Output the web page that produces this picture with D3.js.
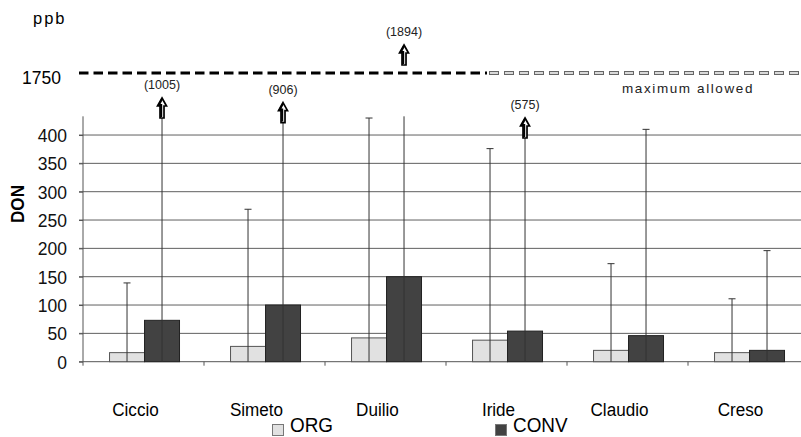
<!DOCTYPE html>
<html><head><meta charset="utf-8">
<script src="https://cdn.jsdelivr.net/npm/d3@7"></script>
<style>
html,body{margin:0;padding:0;background:#fff;}
svg{display:block;font-family:"Liberation Sans",Arial,sans-serif;}
</style></head>
<body>
<svg id="c" width="801" height="437"></svg>
<script>
const categories = ["Ciccio","Simeto","Duilio","Iride","Claudio","Creso"];
const series = ["ORG","CONV"];
const orgValues = [16, 27, 42, 38, 20, 16];
const convValues = [73, 100, 150, 54, 46, 20];
const orgUpper = [139, 269, 430, 376, 173, 111];
const convUpper = [1005, 906, 1894, 575, 410, 196];
const yTicks = [0, 50, 100, 150, 200, 250, 300, 350, 400];
const limitValue = 1750;
const limitLabel = "maximum allowed";

const svg = d3.select("#c");
const W = 801;
const x0 = d3.scaleBand().domain(categories).range([83, 83 + 121 * 6]).padding(0);
const x1 = d3.scaleBand().domain(series).range([0, x0.bandwidth()]).paddingInner(0).paddingOuter(0.729).align(0.52);
const yMaxAxis = 433;
const y = d3.scaleLinear().domain([0, yMaxAxis]).range([361.7, 361.7 - yMaxAxis * 0.5667]);
// broken upper scale for off-chart values (ppb)
const yBreak = d3.scaleLinear().domain([575, 1005, 1750, 1894]).range([118, 98, 73, 45]);

function txt(g, x, yy, s, opts) {
  const t = g.append("text")
    .attr("transform", `translate(${x},${yy}) ${opts.rot ? "rotate(-90)" : ""} scale(${opts.sx || 1},1)`)
    .attr("text-anchor", opts.anchor || "start")
    .attr("font-size", opts.size)
    .attr("font-weight", opts.bold ? "bold" : "normal")
    .attr("fill", opts.fill || "#000")
    .text(s);
  if (opts.ls) t.attr("letter-spacing", opts.ls);
  return t;
}

// gridlines
const grid = svg.append("g");
grid.selectAll("line").data(yTicks.filter(d => d > 0)).join("line")
  .attr("x1", 79).attr("x2", W).attr("y1", d => y(d)).attr("y2", d => y(d))
  .attr("stroke", "#5f5f5f").attr("stroke-width", 1);

// y axis
const yAxis = svg.append("g").attr("transform", "translate(83,0)")
  .call(d3.axisLeft(y).tickValues(yTicks).tickSize(4).tickPadding(12).tickFormat(d3.format("d")));
yAxis.select(".domain").attr("stroke", "#555").attr("d", `M0,${y(0)}V${y(yMaxAxis)}`);
yAxis.selectAll(".tick line").attr("stroke", "#555");
yAxis.selectAll(".tick text").attr("font-size", 17.5).attr("fill", "#111")
  .attr("font-family", "Liberation Sans, Arial, sans-serif").attr("dy", "0.36em");

// x axis
svg.append("line").attr("x1", 79).attr("x2", W).attr("y1", y(0)).attr("y2", y(0)).attr("stroke", "#555");
svg.append("g").selectAll("line").data(categories).join("line")
  .attr("x1", d => x0(d)).attr("x2", d => x0(d))
  .attr("y1", y(0)).attr("y2", y(0) + 4).attr("stroke", "#555");

// bars
const colors = {ORG: "#e1e1e1", CONV: "#424242"};
const strokes = {ORG: "#555", CONV: "#222"};
const rows = categories.map((c, i) => ({c, ORG: orgValues[i], CONV: convValues[i], ORGu: orgUpper[i], CONVu: convUpper[i]}));
const gBars = svg.append("g");
rows.forEach(r => {
  series.forEach(s => {
    gBars.append("rect")
      .attr("x", x0(r.c) + x1(s)).attr("width", x1.bandwidth())
      .attr("y", y(r[s])).attr("height", y(0) - y(r[s]))
      .attr("fill", colors[s]).attr("stroke", strokes[s]).attr("stroke-width", 1);
  });
});

// error bars and arrows
const arrowLen = 20;
const gErr = svg.append("g");
rows.forEach(r => {
  series.forEach(s => {
    const cx = x0(r.c) + x1(s) + x1.bandwidth() / 2;
    const u = r[s + "u"];
    if (u <= yMaxAxis) {
      gErr.append("line").attr("x1", cx).attr("x2", cx).attr("y1", y(0)).attr("y2", y(u))
        .attr("stroke", "#333").attr("stroke-width", 1);
      gErr.append("line").attr("x1", cx - 3.5).attr("x2", cx + 3.5).attr("y1", y(u)).attr("y2", y(u))
        .attr("stroke", "#333").attr("stroke-width", 1);
    } else {
      const tip = yBreak(u);
      const top = Math.max(tip + arrowLen, y(yMaxAxis));
      gErr.append("line").attr("x1", cx).attr("x2", cx).attr("y1", y(0)).attr("y2", top)
        .attr("stroke", "#333").attr("stroke-width", 1);
      const p = d3.path();
      p.moveTo(cx, tip);
      p.lineTo(cx + 4.5, tip + 8);
      p.lineTo(cx + 2, tip + 8);
      p.lineTo(cx + 2, tip + arrowLen);
      p.lineTo(cx - 2, tip + arrowLen);
      p.lineTo(cx - 2, tip + 8);
      p.lineTo(cx - 4.5, tip + 8);
      p.closePath();
      gErr.append("path").attr("d", p.toString()).attr("fill", "#fff")
        .attr("stroke", "#000").attr("stroke-width", 1.7).attr("stroke-linejoin", "miter");
      gErr.append("path")
        .attr("d", `M${cx},${tip + 1}L${cx - 3.2},${tip + 7}L${cx - 0.8},${tip + 7}L${cx - 0.8},${tip + arrowLen - 1}`)
        .attr("fill", "none").attr("stroke", "#000").attr("stroke-width", 2);
      txt(svg, cx, tip - 9, `(${u})`, {size: 12.5, anchor: "middle", fill: "#222"});
    }
  });
});

// limit line at 1750
const yl = yBreak(limitValue);
const split = 487;
svg.append("line").attr("x1", 79).attr("x2", split).attr("y1", yl).attr("y2", yl)
  .attr("stroke", "#000").attr("stroke-width", 3.2).attr("stroke-dasharray", "9.5,5");
svg.append("line").attr("x1", split + 2).attr("x2", W).attr("y1", yl).attr("y2", yl)
  .attr("stroke", "#666").attr("stroke-width", 4).attr("stroke-dasharray", "10,5");
svg.append("line").attr("x1", split + 3).attr("x2", W).attr("y1", yl).attr("y2", yl)
  .attr("stroke", "#fff").attr("stroke-width", 1.4).attr("stroke-dasharray", "8,7");
txt(svg, 61, yl + 10.5, String(limitValue), {size: 17.5, anchor: "end"});
txt(svg, 688, yl + 19.5, limitLabel, {size: 13.5, anchor: "middle", ls: "1.6px", fill: "#222"});
txt(svg, 33, 24, "ppb", {size: 16.5, ls: "2px"});

// y title
txt(svg, 24, 204, "DON", {size: 19, bold: true, anchor: "middle", rot: true, sx: 0.9});

// category labels
categories.forEach(c => {
  txt(svg, x0(c) + x0.bandwidth() / 2 - 8, 416, c, {size: 19, anchor: "middle", sx: 0.9});
});

// legend
const legend = [{s: "ORG", x: 272}, {s: "CONV", x: 495}];
legend.forEach(l => {
  svg.append("rect").attr("x", l.x + 0.5).attr("y", 424.5).attr("width", 11).attr("height", 11)
    .attr("fill", colors[l.s]).attr("stroke", "#777");
  txt(svg, l.x + 18, 432, l.s, {size: 21, sx: 0.9});
});
</script>
</body></html>
